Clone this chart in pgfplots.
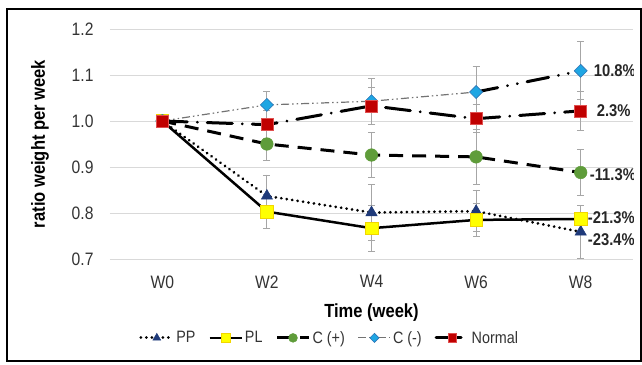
\documentclass[border=0pt]{standalone}
\usepackage{pgfplots}
\pgfplotsset{compat=1.18}
\usepackage{fontspec}
\setmainfont{Liberation Sans}[FakeStretch=0.87]
\definecolor{navyc}{HTML}{1F3A7A}
\definecolor{yelc}{HTML}{FFFF00}
\definecolor{yelb}{HTML}{F2D600}
\definecolor{grnc}{HTML}{5F9C3A}
\definecolor{bluc}{HTML}{1FA6E3}
\definecolor{blub}{HTML}{2E75B6}
\definecolor{redc}{HTML}{C00000}
\definecolor{redb}{HTML}{E05050}
\definecolor{errc}{HTML}{A6A6A6}
\begin{document}
\begin{tikzpicture}
\begin{axis}[
  scale only axis, width=523pt, height=230pt,
  xmin=-0.5, xmax=4.5, ymin=0.7, ymax=1.2,
  xtick={0,1,2,3,4}, xticklabels={W0,W2,W4,W6,W8},
  ytick={0.7,0.8,0.9,1.0,1.1,1.2},
  /pgf/number format/assume math mode=true,
  /pgf/number format/fixed, /pgf/number format/fixed zerofill, /pgf/number format/precision=1,
  ymajorgrids, grid style={draw=black!15, line width=0.8pt},
  axis line style={draw=none}, major tick length=0pt,
  tick label style={font=\fontsize{18}{21}\selectfont, text=black!80},
  xticklabel style={yshift=-13pt},
  yticklabel style={xshift=-13pt},
  xlabel={\textbf{Time (week)}},
  ylabel={\textbf{ratio weight per week}},
  xlabel style={at={(axis description cs:0.5,-0.2348)}, anchor=center, font=\fontsize{19}{22}\selectfont},
  ylabel style={at={(axis description cs:-0.1338,0.5)}, anchor=center, font=\fontsize{19}{22}\selectfont},
  legend columns=5,
  legend style={at={(axis description cs:0.42,-0.343)}, anchor=center, draw=none, fill=none,
    font=\fontsize{16.5}{19}\selectfont, text=black!80,
    /tikz/every even column/.append style={column sep=11pt}},
  legend image code/.code={\draw[mark repeat=2,mark phase=2, every mark/.append style={scale=0.7}] plot coordinates {(0pt,0pt)(16pt,0pt)(32pt,0pt)};},
  error bars/y dir=both, error bars/y explicit,
  error bars/error bar style={errc, line width=1pt, solid},
  error bars/error mark options={rotate=90, errc, mark size=3.5pt, line width=1pt, solid},
  unbounded coords=jump,
]
% C(-) W6-W8 segment (thick black)
\addplot[forget plot, black, line width=3pt, line cap=round,
  dash pattern=on 22pt off 10pt on 0.01pt off 10pt on 0.01pt off 10pt, mark=none,
  error bars/y dir=none]
  coordinates {(3,1.063) (4,1.109)};
% PP
\addplot[black, line width=3pt, line cap=round, dash pattern=on 0.01pt off 5.5pt,
  mark=triangle*, mark size=6.5pt, mark options={solid, fill=navyc, draw=navyc, line width=0.5pt}]
  coordinates {(0,1.0) +- (0,0.004) (1,0.837) +- (0,0.045) (2,0.801) +- (0,0.06) (3,0.804) +- (0,0.045) (4,0.759) +- (0,0.057)};
\addlegendentry{PP}
% PL
\addplot[black, line width=2.5pt,
  mark=square*, mark size=6.3pt, mark options={solid, fill=yelc, draw=yelb, line width=0.6pt}]
  coordinates {(0,1.0) +- (0,0.004) (1,0.803) +- (0,0.037) (2,0.767) +- (0,0.05) (3,0.785) +- (0,0.035) (4,0.787) +- (0,0.03)};
\addlegendentry{PL}
% C(+)
\addplot[black, line width=3pt, dash pattern=on 14pt off 9pt,
  mark=*, mark size=6.3pt, mark options={solid, fill=grnc, draw=grnc, line width=0.5pt}]
  coordinates {(0,1.0) +- (0,0.004) (1,0.950) +- (0,0.035) (2,0.926) +- (0,0.048) (3,0.922) +- (0,0.06) (4,0.888) +- (0,0.05)};
\addlegendentry{C (+)}
% C(-)
\addplot[black!55, line width=1.2pt,
  dash pattern=on 8pt off 3pt on 1.5pt off 3pt on 1.5pt off 3pt,
  mark=square*, mark size=4.6pt, mark options={solid, rotate=45, fill=bluc, draw=blub, line width=0.6pt}]
  coordinates {(0,1.0) +- (0,0.004) (1,1.035) +- (0,0.03) (2,1.043) +- (0,0.05) (3,1.063) +- (0,0.055) (3.5,nan) +- (0,0) (4,1.109) +- (0,0.063)};
\addlegendentry{C (-)}
% Normal
\addplot[black, line width=3pt, line cap=round,
  dash pattern=on 25pt off 10pt on 0.01pt off 10pt,
  mark=square*, mark size=6pt, mark options={solid, fill=redc, draw=redb, line width=0.6pt}]
  coordinates {(0,1.0) +- (0,0.004) (1,0.992) +- (0,0.03) (2,1.033) +- (0,0.04) (3,1.005) +- (0,0.03) (4,1.022) +- (0,0.042)};
\addlegendentry{Normal}
\begin{scope}[every node/.style={anchor=west, font=\bfseries\fontsize{17}{20}\selectfont, text=black!85, inner sep=0pt}]
\node at (axis cs:4,1.109) [xshift=13pt] {10.8\%};
\node at (axis cs:4,1.022) [xshift=16pt] {2.3\%};
\node at (axis cs:4,0.884) [xshift=9pt] {-11.3\%};
\node at (axis cs:4,0.790) [xshift=7pt] {-21.3\%};
\node at (axis cs:4,0.742) [xshift=7pt] {-23.4\%};
\end{scope}
\end{axis}
\draw[line width=2.5pt] (-103pt,-102pt) rectangle (531pt,250pt);
\pgfresetboundingbox
\path[use as bounding box] (-110pt,-105pt) rectangle (532pt,259pt);
\end{tikzpicture}
\end{document}
